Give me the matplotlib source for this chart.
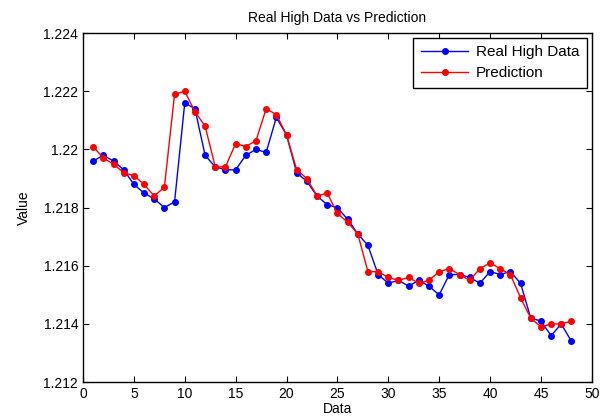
import matplotlib
matplotlib.use("Agg")
import matplotlib.pyplot as plt

plt.rcParams['font.family'] = ['Liberation Sans', 'DejaVu Sans']

idx = list(range(1, 49))
real_high = [1.2196, 1.2198, 1.2196, 1.2193, 1.2188, 1.2185, 1.2183, 1.2180,
             1.2182, 1.2216, 1.2214, 1.2198, 1.2194, 1.2193, 1.2193, 1.2198,
             1.2200, 1.2199, 1.2211, 1.2205, 1.2192, 1.2189, 1.2184, 1.2181,
             1.2180, 1.2176, 1.2171, 1.2167, 1.2157, 1.2154, 1.2155, 1.2153,
             1.2155, 1.2153, 1.2150, 1.2157, 1.2157, 1.2156, 1.2154, 1.2158,
             1.2157, 1.2158, 1.2154, 1.2142, 1.2141, 1.2136, 1.2140, 1.2134]
prediction = [1.2201, 1.2197, 1.2195, 1.2192, 1.2191, 1.2188, 1.2184, 1.2187,
              1.2219, 1.2220, 1.2213, 1.2208, 1.2194, 1.2194, 1.2202, 1.2201,
              1.2203, 1.2214, 1.2212, 1.2205, 1.2193, 1.2190, 1.2184, 1.2185,
              1.2178, 1.2175, 1.2171, 1.2158, 1.2158, 1.2156, 1.2155, 1.2156,
              1.2154, 1.2155, 1.2158, 1.2159, 1.2157, 1.2155, 1.2159, 1.2161,
              1.2159, 1.2157, 1.2149, 1.2142, 1.2139, 1.2140, 1.2140, 1.2141]

fig = plt.figure(figsize=(6.12, 4.19), dpi=100)
ax = fig.add_axes([0.1356, 0.088, 0.8314, 0.833])

ax.plot(idx, real_high, color='#0000ff', marker='o', markersize=4, linewidth=1,
        label='Real High Data')
ax.plot(idx, prediction, color='#ff0000', marker='o', markersize=4, linewidth=1,
        label='Prediction')

ax.set_xlim(0, 50)
ax.set_ylim(1.212, 1.224)
ax.set_xticks(range(0, 51, 5))
ax.set_yticks([1.212, 1.214, 1.216, 1.218, 1.22, 1.222, 1.224])
ax.set_yticklabels(['1.212', '1.214', '1.216', '1.218', '1.22', '1.222', '1.224'])
ax.tick_params(direction='in', top=True, right=True, labelsize=10, length=4)
for s in ax.spines.values():
    s.set_linewidth(1)

ax.set_xlabel('Data', fontsize=10, labelpad=1)
ax.set_ylabel('Value', fontsize=10, labelpad=9)
ax.set_title('Real High Data vs Prediction', fontsize=10, pad=8)

leg = ax.legend(loc='upper right', fontsize=11, fancybox=False, framealpha=1,
                edgecolor='black', borderaxespad=0.3, handlelength=3.1,
                handletextpad=0.5, labelspacing=0.45, borderpad=0.5)
leg.get_frame().set_linewidth(1)

fig.savefig('out.png', dpi=100)
